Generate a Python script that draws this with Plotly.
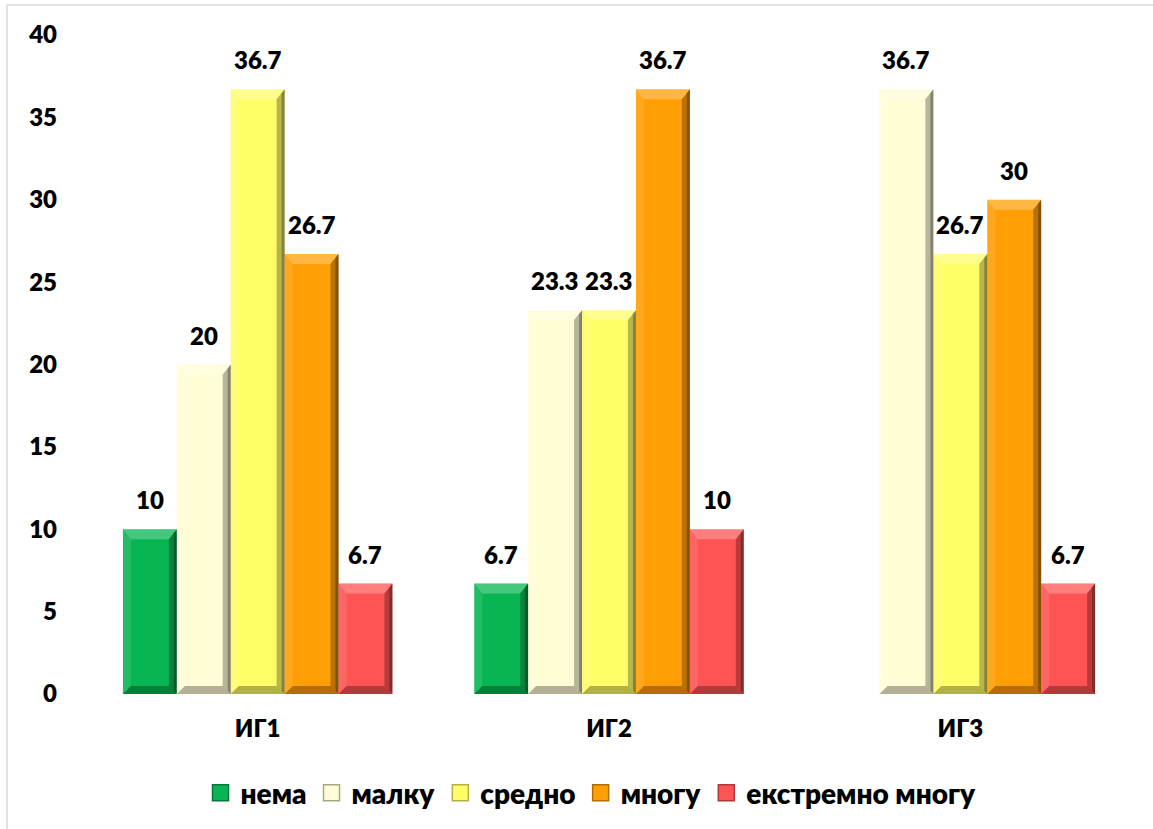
import plotly.graph_objects as go

# Category groups and series values (%)
groups = ["ИГ1", "ИГ2", "ИГ3"]
series_names = ["нема", "малку", "средно", "многу", "екстремно многу"]
nema = [10, 6.7, 0]
malku = [20, 23.3, 36.7]
sredno = [36.7, 23.3, 26.7]
mnogu = [26.7, 36.7, 30]
ekstremno = [6.7, 10, 6.7]
series_values = [nema, malku, sredno, mnogu, ekstremno]
colors = ["#08B553", "#FFFDD6", "#FFFD68", "#FF9F05", "#FF5454"]
edge_colors = ["#05773A", "#A9A683", "#B3B045", "#B06C00", "#B03838"]

FONT = "Lato, 'Open Sans', sans-serif"
W, H = 1153, 829
M_L, M_R, M_T, M_B = 82, 17, 35, 134
BARGAP = 0.233
Y_MAX = 40
TXT_W = 800

plot_w = W - M_L - M_R
plot_h = H - M_T - M_B
x_per_px = 3.0 / plot_w          # x range spans 3 category units
y_per_px = Y_MAX / plot_h

n_series = len(series_values)
bar_w = (1 - BARGAP) / n_series

fig = go.Figure()
x_pos = list(range(len(groups)))
for name, vals, col in zip(series_names, series_values, colors):
    fig.add_trace(go.Bar(
        x=x_pos, y=vals, name=name, legendgroup=name, showlegend=False,
        marker=dict(color=col, line=dict(width=0)),
        hoverinfo="skip",
    ))

# Legend keys: square swatches in the series colours
for name, col, edge in zip(series_names, colors, edge_colors):
    fig.add_trace(go.Scatter(
        x=[None], y=[None], mode="markers", name=name, legendgroup=name,
        marker=dict(symbol="square", size=16, color=col, line=dict(color=edge, width=1.5)),
        hoverinfo="skip",
    ))

# Bevel facets and value labels for each bar
shapes = []
annotations = []
bx = 8 * x_per_px
bx_edge = 3 * x_per_px
by_top = 10 * y_per_px
by_bot = 8 * y_per_px


def facet(pts, fill):
    path = "M " + " L ".join(f"{px:.5f},{py:.5f}" for px, py in pts) + " Z"
    return dict(type="path", xref="x", yref="y", path=path,
                fillcolor=fill, line=dict(width=0), layer="above")


for i, vals in enumerate(series_values):
    for k, v in enumerate(vals):
        if v <= 0:
            continue
        cx = k + (i - (n_series - 1) / 2) * bar_w
        x0, x1 = cx - bar_w / 2, cx + bar_w / 2
        y0, y1 = 0, v
        # top facet (lit)
        shapes.append(facet([(x0, y1), (x1, y1), (x1 - bx, y1 - by_top), (x0 + bx, y1 - by_top)],
                            "rgba(255,255,255,0.25)"))
        # left facet
        shapes.append(facet([(x0, y1), (x0 + bx, y1 - by_top), (x0 + bx, y0 + by_bot), (x0, y0)],
                            "rgba(255,255,255,0.10)"))
        # right facet (shaded)
        shapes.append(facet([(x1, y1), (x1, y0), (x1 - bx, y0 + by_bot), (x1 - bx, y1 - by_top)],
                            "rgba(0,0,0,0.28)"))
        shapes.append(facet([(x1, y1), (x1, y0), (x1 - bx_edge, y0 + by_bot * 0.4), (x1 - bx_edge, y1 - by_top * 0.4)],
                            "rgba(0,0,0,0.28)"))
        # bottom facet (shaded)
        shapes.append(facet([(x0, y0), (x0 + bx, y0 + by_bot), (x1 - bx, y0 + by_bot), (x1, y0)],
                            "rgba(0,0,0,0.30)"))
        annotations.append(dict(
            x=cx, y=v, xref="x", yref="y", text=f"{v:g}", showarrow=False,
            yanchor="bottom", yshift=13,
            font=dict(family=FONT, size=24, color="#000000", weight=TXT_W),
        ))

# Chart-area frame
shapes.append(dict(
    type="rect", xref="paper", yref="paper",
    x0=(7 - M_L) / plot_w, x1=(1165 - M_L) / plot_w,
    y0=-(H + 10 - (H - M_B)) / plot_h, y1=1 + (M_T - 5) / plot_h,
    line=dict(color="#D9D9D9", width=1.5), fillcolor="rgba(0,0,0,0)", layer="below",
))

fig.update_layout(
    width=W, height=H,
    margin=dict(l=M_L, r=M_R, t=M_T, b=M_B),
    paper_bgcolor="white", plot_bgcolor="white",
    barmode="group", bargap=BARGAP, bargroupgap=0,
    font=dict(family=FONT, size=24, color="#000000"),
    xaxis=dict(
        range=[-0.5, len(groups) - 0.5],
        tickvals=x_pos, ticktext=groups,
        showgrid=False, zeroline=False, showline=False, ticks="",
        tickfont=dict(family=FONT, size=24, color="#000000", weight=TXT_W),
        ticklabelstandoff=18,
    ),
    yaxis=dict(
        range=[0, Y_MAX], dtick=5,
        showgrid=False, zeroline=False, showline=False, ticks="",
        tickfont=dict(family=FONT, size=24, color="#000000", weight=TXT_W),
        ticklabelstandoff=24,
    ),
    legend=dict(
        orientation="h", x=(591 - M_L) / plot_w, xanchor="center",
        y=-(793 - (H - M_B)) / plot_h, yanchor="middle",
        font=dict(family=FONT, size=28, color="#000000", weight=TXT_W),
        bgcolor="rgba(0,0,0,0)", itemsizing="trace",
    ),
    shapes=shapes,
    annotations=annotations,
    showlegend=True,
)

fig.write_html("out.html")
